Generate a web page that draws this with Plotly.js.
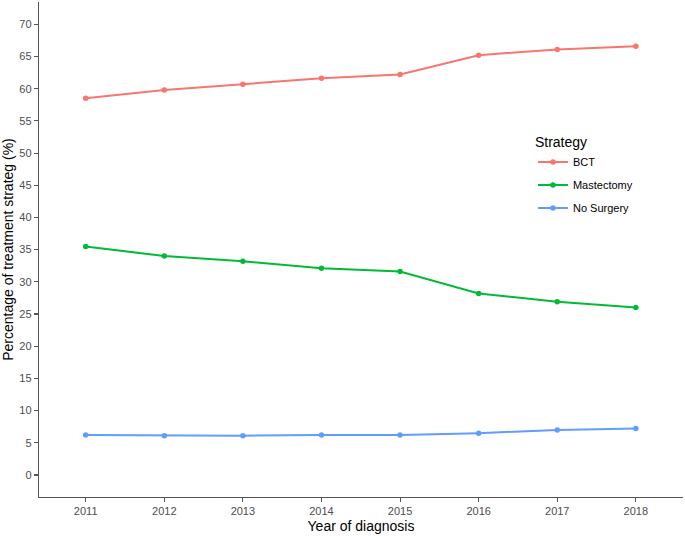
<!DOCTYPE html>
<html>
<head>
<meta charset="utf-8">
<script src="https://cdn.plot.ly/plotly-3.0.1.min.js"></script>
<style>html,body{margin:0;padding:0;background:#fff;}#chart{width:685px;height:536px;}</style>
</head>
<body>
<div id="chart"></div>
<script>
var years = [2011, 2012, 2013, 2014, 2015, 2016, 2017, 2018];
var bct = [58.5, 59.8, 60.7, 61.6, 62.2, 65.2, 66.1, 66.6];
var mastectomy = [35.5, 34.0, 33.2, 32.1, 31.6, 28.2, 26.9, 26.0];
var noSurgery = [6.2, 6.1, 6.1, 6.2, 6.2, 6.5, 7.0, 7.2];
var seriesNames = ["BCT", "Mastectomy", "No Surgery"];
var seriesColors = ["#F8766D", "#00BA38", "#619CFF"];
var yTicks = [0, 5, 10, 15, 20, 25, 30, 35, 40, 45, 50, 55, 60, 65, 70];

var seriesData = [bct, mastectomy, noSurgery];
var traces = seriesData.map(function (vals, i) {
  return {
    x: years, y: vals, name: seriesNames[i], legendgroup: 'g' + i,
    type: 'scatter', mode: 'lines+markers',
    line: {color: seriesColors[i], width: 2},
    marker: {color: seriesColors[i], size: 5.5}
  };
});

var layout = {
  width: 685, height: 536,
  margin: {l: 39, r: 2, t: 2, b: 39},
  paper_bgcolor: '#fff', plot_bgcolor: '#fff',
  font: {family: 'Liberation Sans, Arial, sans-serif', color: '#000'},
  showlegend: true,
  legend: {
    title: {text: 'Strategy', font: {size: 14, color: '#000'}},
    font: {size: 11, color: '#000'},
    x: 0.767, xanchor: 'left', y: 0.743, yanchor: 'top',
    tracegroupgap: 4, itemwidth: 30, bgcolor: 'rgba(0,0,0,0)'
  },
  xaxis: {
    range: [2010.406, 2018.6], tickvals: years, ticktext: years.map(String),
    showgrid: false, zeroline: false, showline: true, linecolor: '#555', linewidth: 1.2,
    ticks: 'outside', ticklen: 4, tickcolor: '#555', tickwidth: 1.1,
    tickfont: {size: 11, color: '#4D4D4D'},
    title: {text: 'Year of diagnosis', font: {size: 14, color: '#000'}, standoff: 4}
  },
  yaxis: {
    range: [-3.42, 73.46], tickvals: yTicks,
    showgrid: false, zeroline: false, showline: true, linecolor: '#555', linewidth: 1.2,
    ticks: 'outside', ticklen: 4, tickcolor: '#555', tickwidth: 1.1,
    tickfont: {size: 11, color: '#4D4D4D'},
    title: {text: 'Percentage of treatment strateg (%)', font: {size: 14, color: '#000'}, standoff: 4}
  }
};

Plotly.newPlot('chart', traces, layout, {displayModeBar: false, staticPlot: true});
</script>
</body>
</html>
